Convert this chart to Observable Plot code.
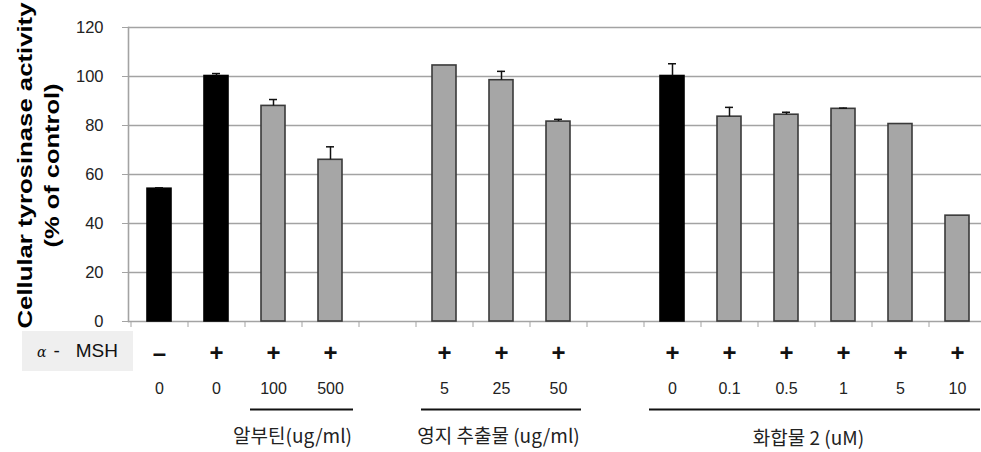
<!DOCTYPE html>
<html>
<head>
<meta charset="utf-8">
<script src="https://cdn.jsdelivr.net/npm/d3@7"></script>
<script src="https://cdn.jsdelivr.net/npm/@observablehq/plot@0.6"></script>
<style>
  body { margin: 0; background: #fff; }
  #wrap { position: relative; width: 981px; height: 452px; overflow: hidden; }
  #msh {
    position: absolute; left: 22px; top: 331px; width: 111px; height: 40px;
    background: #efefef; font-family: "Liberation Sans", Arial, sans-serif;
    font-size: 19px; color: #111; line-height: 40px; box-sizing: border-box; padding-left: 15px;
    white-space: nowrap;
  }
  #msh .a { font-style: italic; font-size: 14px; font-family: "DejaVu Serif", serif; }
  #msh .d { display: inline-block; margin-left: 7px; margin-right: 16px; }
</style>
</head>
<body>
<div id="wrap"><div id="chart"></div><div id="msh"><span class="a">α</span><span class="d">-</span>MSH</div></div>
<script>
// slots on the x axis (gaps are empty slots)
const categories = ["ctrl", "msh", "arb100", "arb500", "gap1", "yz5", "yz25", "yz50", "gap2", "c0", "c0.1", "c0.5", "c1", "c5", "c10"];
const barCategories = ["ctrl", "msh", "arb100", "arb500", "yz5", "yz25", "yz50", "c0", "c0.1", "c0.5", "c1", "c5", "c10"];
const values = [54.2, 100.2, 88, 66, 104.5, 98.5, 81.6, 100.2, 83.6, 84.4, 86.8, 80.6, 43.2];
const errors = [0.4, 1, 2.6, 5.3, 0, 3.6, 0.9, 5, 3.8, 1, 0.3, 0, 0];
const barColors = ["#000000", "#000000", "#a6a6a6", "#a6a6a6", "#a6a6a6", "#a6a6a6", "#a6a6a6", "#000000", "#a6a6a6", "#a6a6a6", "#a6a6a6", "#a6a6a6", "#a6a6a6"];
const mshSigns = ["–", "+", "+", "+", "+", "+", "+", "+", "+", "+", "+", "+", "+"];
const doseLabels = ["0", "0", "100", "500", "5", "25", "50", "0", "0.1", "0.5", "1", "5", "10"];
const groupLabels = ["알부틴(ug/ml)", "영지 추출물 (ug/ml)", "화합물 2 (uM)"];
const groupFrom = ["arb100", "yz5", "c0"];
const groupTo = ["arb500", "yz50", "c10"];
const groupAnchor = ["arb100", "yz25", "c0.5"];
const yTicks = [0, 20, 40, 60, 80, 100, 120];
const yLabelLines = ["Cellular tyrosinase activity", "(% of control)"];

const bars = barCategories.map((c, i) => ({
  cat: c, value: values[i], err: errors[i], color: barColors[i],
  sign: mshSigns[i], dose: doseLabels[i]
}));
const groups = groupLabels.map((g, i) => ({label: g, from: groupFrom[i], to: groupTo[i], anchor: groupAnchor[i]}));

const font = "Liberation Sans, Arial, sans-serif";
const kfont = "Noto Sans CJK KR, sans-serif";

const plot = Plot.plot({
  width: 981,
  height: 452,
  marginLeft: 128,
  marginRight: 0,
  marginTop: 27,
  marginBottom: 131,
  style: {fontFamily: font, background: "transparent", overflow: "visible"},
  x: {domain: categories, range: [130.2, 986.5], paddingInner: 0.58, paddingOuter: 0.29, axis: null},
  y: {domain: [0, 120], axis: null},
  color: {type: "identity"},
  marks: [
    Plot.gridY(yTicks.filter(d => d > 0), {stroke: "#a3a3a3", strokeOpacity: 1, strokeWidth: 1.6}),
    Plot.ruleY([0], {stroke: "#a3a3a3", strokeWidth: 1.6}),
    Plot.frame({anchor: "left", stroke: "#a3a3a3", strokeWidth: 1.6}),
    Plot.axisY({ticks: yTicks, label: null, tickSize: 6, tickPadding: 19, stroke: "#a3a3a3", fontSize: 16.5, fill: "#222", tickFormat: d => String(d)}),
    Plot.axisX({ticks: categories, label: null, tickSize: 6, tickPadding: 0, stroke: "#a3a3a3", text: null, dx: -28.5}),
    Plot.barY(bars, {x: "cat", y: "value", fill: "color", stroke: d => d.color === "#000000" ? "#000" : "#3a3a3a", strokeWidth: 1.6}),
    Plot.ruleX(bars.filter(d => d.err > 0), {x: "cat", y1: "value", y2: d => d.value + d.err, stroke: "#111", strokeWidth: 1.5}),
    Plot.tickY(bars.filter(d => d.err > 0), {x: "cat", y: d => d.value + d.err, stroke: "#111", strokeWidth: 1.5, insetLeft: 8, insetRight: 8}),
    // alpha-MSH row
    Plot.text(bars, {x: "cat", text: "sign", frameAnchor: "bottom", dy: 32, fontSize: 24, fontWeight: "bold", fill: "#111", lineAnchor: "middle"}),
    // dose row
    Plot.text(bars, {x: "cat", text: "dose", frameAnchor: "bottom", dy: 67, fontSize: 16, fill: "#222", lineAnchor: "middle"}),
    // group underlines
    Plot.ruleY(groups, {x1: "from", x2: "to", y: () => 0, dy: 88, stroke: "#111", strokeWidth: 2, insetLeft: -11, insetRight: -11}),
    // group labels
    Plot.text(groups.slice(0, 1), {x: "anchor", text: "label", frameAnchor: "bottom", dy: 115, dx: 19, fontSize: 19, fill: "#222", lineAnchor: "middle", fontFamily: kfont}),
    Plot.text(groups.slice(1, 2), {x: "anchor", text: "label", frameAnchor: "bottom", dy: 115, dx: -3, fontSize: 19, fill: "#222", lineAnchor: "middle", fontFamily: kfont}),
    Plot.text(groups.slice(2, 3), {x: "anchor", text: "label", frameAnchor: "bottom", dy: 117, dx: 22, fontSize: 19, fill: "#222", lineAnchor: "middle", fontFamily: kfont}),
    // y label
    Plot.text(yLabelLines.slice(0, 1), {text: d => d, frameAnchor: "left", rotate: -90, dx: -103, dy: -9, fontSize: 20, fontWeight: "bold", fill: "#000", textAnchor: "middle", lineAnchor: "middle"}),
    Plot.text(yLabelLines.slice(1, 2), {text: d => d, frameAnchor: "left", rotate: -90, dx: -76, dy: -9, fontSize: 20, fontWeight: "bold", fill: "#000", textAnchor: "middle", lineAnchor: "middle"})
  ]
});
// stretch the y label lines along their length, as in the reference
const stretch = {"Cellular tyrosinase activity": 326, "(% of control)": 164};
d3.select(plot).selectAll("text").each(function () {
  const t = this.textContent;
  if (stretch[t]) {
    this.setAttribute("textLength", stretch[t]);
    this.setAttribute("lengthAdjust", "spacingAndGlyphs");
  }
});
document.getElementById("chart").appendChild(plot);
</script>
</body>
</html>
